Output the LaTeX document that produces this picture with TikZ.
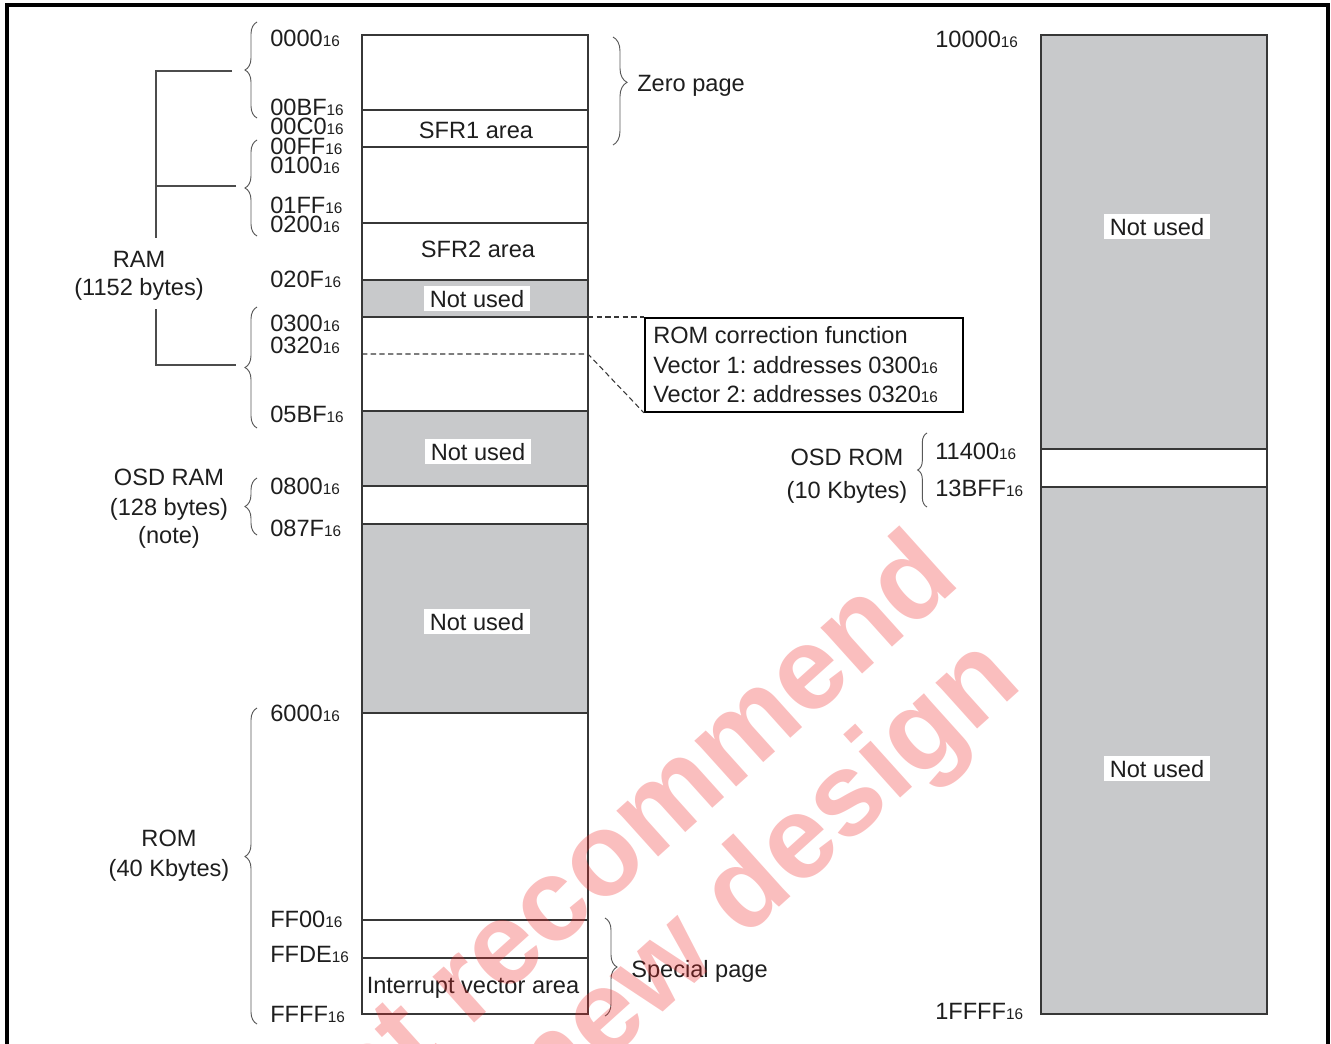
\documentclass[tikz,border=0pt]{standalone}
\usepackage{fontspec}
\setmainfont{Liberation Sans}
\usetikzlibrary{decorations.pathreplacing}
\frenchspacing
\newcommand\hx[1]{#1{\fontsize{11.5}{12}\selectfont 16}}
\definecolor{ngray}{RGB}{200,201,203}
\definecolor{lgray}{RGB}{55,55,55}
\definecolor{txt}{RGB}{30,30,30}
\definecolor{wmred}{RGB}{240,40,40}
\begin{document}
\begin{tikzpicture}[x=0.75pt,y=-0.75pt,
  font=\fontsize{17.7}{21}\selectfont,
  addr/.style={anchor=base west, inner sep=0pt, text=txt},
  lbl/.style={anchor=base, inner sep=0pt, text=txt},
  nu/.style={anchor=base, fill=white, inner xsep=4.5pt, inner ysep=3pt, text=txt},
  cell/.style={draw=lgray, line width=1pt},
  brc/.style={decorate, decoration={brace, amplitude=#1}, draw=black!65, line width=0.7pt},
  brc/.default=9pt,
  bline/.style={draw=black!70, line width=0.8pt},
  dsh/.style={draw=lgray, line width=0.8pt, dash pattern=on 4pt off 2.5pt},
  wm/.style={text=wmred, text opacity=0.3, font=\fontsize{88}{96}\bfseries\selectfont, inner sep=0pt, rotate=42, anchor=base east}]
\useasboundingbox (0,0) rectangle (1331,1043);
\clip (0,0) rectangle (1331,1043);
% outer frame
\draw[line width=2.3pt, black] (7,1070) -- (7,5) -- (1328,5) -- (1328,1070);

% ---------- left memory column ----------
\fill[ngray] (362,280) rectangle (588,317);
\fill[ngray] (362,411) rectangle (588,486);
\fill[ngray] (362,524) rectangle (588,713);
\draw[cell] (362,35) rectangle (588,1014);
\foreach \yy in {110,147,223,280,317,411,486,524,713,920,958}
  \draw[cell] (362,\yy) -- (588,\yy);
\coordinate (d0l) at (362,354);
\coordinate (d0r) at (588,354);
\coordinate (d1) at (588,317);

% cell labels
\node[lbl] (sfr1) at (476,138) {SFR1 area};
\node[lbl] (sfr2) at (478,257) {SFR2 area};
\node[nu] (nu1) at (477,307) {Not used};
\node[nu] (nu2) at (478,460) {Not used};
\node[nu] (nu3) at (477,630) {Not used};
\node[lbl] (iva) at (473,993) {Interrupt vector area};

% address labels
\node[addr] (a0000) at (270,46) {\hx{0000}};
\node[addr] (a00BF) at (270,115.5) {\hx{00BF}};
\node[addr] (a00C0) at (270,134.5) {\hx{00C0}};
\node[addr] (a00FF) at (270,154) {\hx{00FF}};
\node[addr] (a0100) at (270,173) {\hx{0100}};
\node[addr] (a01FF) at (270,213) {\hx{01FF}};
\node[addr] (a0200) at (270,232) {\hx{0200}};
\node[addr] (a020F) at (270,287) {\hx{020F}};
\node[addr] (a0300) at (270,331) {\hx{0300}};
\node[addr] (a0320) at (270,353) {\hx{0320}};
\node[addr] (a05BF) at (270,422) {\hx{05BF}};
\node[addr] (a0800) at (270,494) {\hx{0800}};
\node[addr] (a087F) at (270,536) {\hx{087F}};
\node[addr] (a6000) at (270,721) {\hx{6000}};
\node[addr] (aFF00) at (270,927) {\hx{FF00}};
\node[addr] (aFFDE) at (270,962) {\hx{FFDE}};
\node[addr] (aFFFF) at (270,1022) {\hx{FFFF}};

% left braces
\draw[brc=9pt] (257,118) -- (257,22);
\draw[brc=9pt] (257,236) -- (257,140);
\draw[brc=9pt] (257,428) -- (257,307);
\draw[brc=9pt] (257,535) -- (257,478);
\draw[brc=9pt, decoration={aspect=0.53}] (257,1024) -- (257,708);

% RAM bracket
\node[lbl] (ram) at (139,267) {RAM};
\node[lbl] (ramb) at (139,295) {(1152 bytes)};
\coordinate (r1) at (232,71);
\coordinate (r2) at (236,186);
\coordinate (r3) at (236,365);
\draw[bline] (r1) -- (156,71) -- (156,238);
\draw[bline] (r2) -- (156,186);
\draw[bline] (156,309) -- (156,365) -- (r3);

% OSD RAM, ROM labels
\node[lbl] (osdr1) at (169,485) {OSD RAM};
\node[lbl] (osdr2) at (169,515) {(128 bytes)};
\node[lbl] (osdr3) at (169,543) {(note)};
\node[lbl] (rom1) at (169,846) {ROM};
\node[lbl] (rom2) at (169,876) {(40 Kbytes)};

% right braces of left column
\draw[brc=10.5pt, decoration={aspect=0.42}] (613,37) -- (613,145);
\node[addr] (zp) at (637,91) {Zero page};
\draw[brc=9pt] (605,918) -- (605,1016);
\node[addr] (sp) at (631,977) {Special page};

% ROM correction box
\node[draw=black, line width=1.4pt, minimum width=318*0.75pt, minimum height=94*0.75pt, anchor=north west, inner sep=0pt] (rcbox) at (644,317) {};
\node[addr] (rc1) at (653,343) {ROM correction function};
\node[addr] (rc2) at (653,373) {Vector 1: addresses \hx{0300}};
\node[addr] (rc3) at (653,402) {Vector 2: addresses \hx{0320}};
\draw[dsh] (d1) -- (rcbox.north west);
\draw[dsh] (d0l) -- (d0r) -- (rcbox.south west);

% ---------- right memory column ----------
\fill[ngray] (1041,35) rectangle (1267,1014);
\fill[white] (1041,449) rectangle (1267,487);
\draw[draw=lgray, line width=1.5pt] (1041,449) -- (1267,449);
\draw[draw=lgray, line width=1.5pt] (1041,487) -- (1267,487);
\draw[draw=lgray, line width=2pt] (1041,35) rectangle (1267,1014);
\node[nu] (nu4) at (1157,235) {Not used};
\node[nu] (nu5) at (1157,777) {Not used};
\node[addr] (b10000) at (935,47) {\hx{10000}};
\node[addr] (b11400) at (935,459) {\hx{11400}};
\node[addr] (b13BFF) at (935,496) {\hx{13BFF}};
\node[addr] (b1FFFF) at (935,1019) {\hx{1FFFF}};
\draw[brc=7pt] (927,507) -- (927,433);
\node[lbl] (osd1) at (847,465) {OSD ROM};
\node[lbl] (osd2) at (847,498) {(10 Kbytes)};

% watermark
\node[wm] (wm1) at (963,583) {Not recommend};
\node[wm] (wm2) at (1025,686) {for new design};
\end{tikzpicture}
\end{document}
